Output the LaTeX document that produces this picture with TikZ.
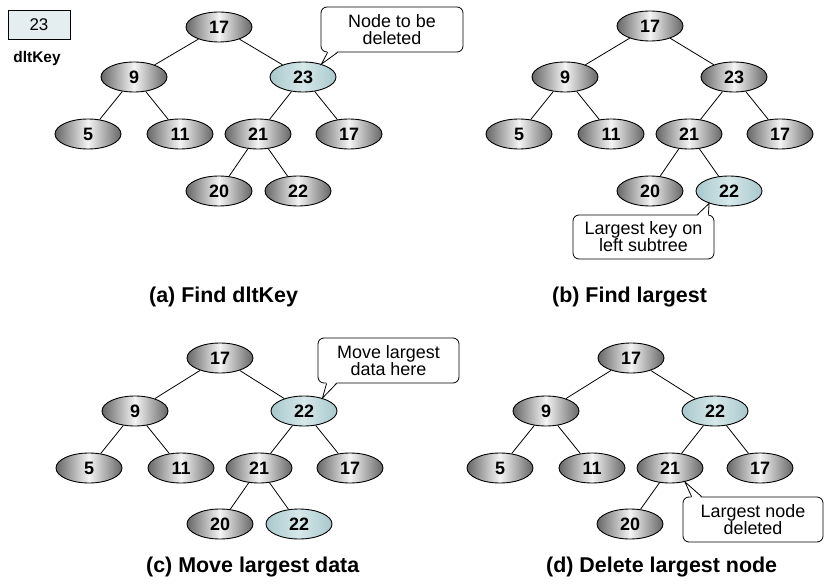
\documentclass[tikz,border=0pt]{standalone}
\usepackage{fontspec}
\setmainfont{Liberation Sans}
\usetikzlibrary{shapes.geometric,calc}
\definecolor{nodedark}{HTML}{666666}
\definecolor{nodelight}{HTML}{F4F4F4}
\definecolor{hidark}{HTML}{A8C8CC}
\definecolor{hilight}{HTML}{D6E8EA}
\definecolor{keyfill}{HTML}{E4EEF0}
\newcommand\calloutptr[4]{%
  \fill[white] ($#1+#4$) -- #3 -- ($#2+#4$) -- cycle;
  \draw[link] #1 -- #3 -- #2;}
\begin{document}
\begin{tikzpicture}[x=1bp,y=-1bp,
  tnode/.style={ellipse,draw=black,line width=0.9bp,minimum width=66bp,minimum height=30bp,inner sep=0pt,
    left color=nodedark,right color=nodedark,middle color=nodelight,
    font=\fontsize{18}{18}\selectfont\bfseries},
  hnode/.style={tnode,left color=hidark,right color=hidark,middle color=hilight},
  link/.style={line width=0.8bp,black},
  calloutbox/.style={draw=black,line width=0.8bp,fill=white,rounded corners=6bp,inner sep=0pt,
    align=center,font=\fontsize{18}{17}\selectfont},
  caption/.style={anchor=west,inner sep=0pt,font=\fontsize{21.5}{21.5}\selectfont\bfseries}]
\useasboundingbox (0,0) rectangle (824,585);

% key box
\node[draw=black,line width=0.8bp,fill=keyfill,minimum width=62bp,minimum height=29bp,inner sep=0pt,
  font=\fontsize{17}{17}\selectfont] (key) at (39,24.5) {23};
\node[font=\fontsize{15.5}{15.5}\selectfont\bfseries] (keylbl) at (37,59) {dltKey};

% ---------- (a) ----------
\node[tnode] (a17) at (219,27) {17};
\node[tnode] (a9) at (134,77) {9};
\node[hnode] (a23) at (303,77) {23};
\node[tnode] (a5) at (88,134) {5};
\node[tnode] (a11) at (180,134) {11};
\node[tnode] (a21) at (258,134) {21};
\node[tnode] (a17r) at (349,134) {17};
\node[tnode] (a20) at (219,191) {20};
\node[tnode] (a22) at (298,191) {22};
\draw[link] (a17)--(a9) (a17)--(a23) (a9)--(a5) (a9)--(a11) (a23)--(a21) (a23)--(a17r) (a21)--(a20) (a21)--(a22);
\node[calloutbox,minimum width=142bp,minimum height=45bp] (ca) at (392,29.5) {Node to be\\deleted};
\coordinate (caT) at (a23.35);
\coordinate (ca1) at ($(ca.south west)+(7,0)$);
\coordinate (ca2) at ($(ca.south west)+(17,0)$);
\calloutptr{(ca1)}{(ca2)}{(caT)}{(0,-1.5)}
\node[caption] (capa) at (149,297) {(a) Find dltKey};

% ---------- (b) ----------
\node[tnode] (b17) at (650,26) {17};
\node[tnode] (b9) at (565,77) {9};
\node[tnode] (b23) at (734,77) {23};
\node[tnode] (b5) at (519,134) {5};
\node[tnode] (b11) at (611,134) {11};
\node[tnode] (b21) at (689,134) {21};
\node[tnode] (b17r) at (780,134) {17};
\node[tnode] (b20) at (650,191) {20};
\node[hnode] (b22) at (729,191) {22};
\draw[link] (b17)--(b9) (b17)--(b23) (b9)--(b5) (b9)--(b11) (b23)--(b21) (b23)--(b17r) (b21)--(b20) (b21)--(b22);
\node[calloutbox,minimum width=141bp,minimum height=44bp] (cb) at (643.5,237) {Largest key on\\left subtree};
\coordinate (cbT) at (b22.212);
\coordinate (cb1) at ($(cb.north east)+(-17,0)$);
\coordinate (cb2) at ($(cb.north east)+(-6,0)$);
\calloutptr{(cb1)}{(cb2)}{(cbT)}{(0,1.5)}
\node[caption] (capb) at (552,297) {(b) Find largest};

% ---------- (c) ----------
\node[tnode] (c17) at (220,358) {17};
\node[tnode] (c9) at (135,411) {9};
\node[hnode] (c22) at (304,411) {22};
\node[tnode] (c5) at (89,468) {5};
\node[tnode] (c11) at (181,468) {11};
\node[tnode] (c21) at (259,468) {21};
\node[tnode] (c17r) at (350,468) {17};
\node[tnode] (c20) at (220,524) {20};
\node[hnode] (c22b) at (299,524) {22};
\draw[link] (c17)--(c9) (c17)--(c22) (c9)--(c5) (c9)--(c11) (c22)--(c21) (c22)--(c17r) (c21)--(c20) (c21)--(c22b);
\node[calloutbox,minimum width=141bp,minimum height=45bp] (cc) at (388.5,360.5) {Move largest\\data here};
\coordinate (ccT) at (c22.35);
\coordinate (cc1) at ($(cc.south west)+(9,0)$);
\coordinate (cc2) at ($(cc.south west)+(19,0)$);
\calloutptr{(cc1)}{(cc2)}{(ccT)}{(0,-1.5)}
\node[caption] (capc) at (146,567) {(c) Move largest data};

% ---------- (d) ----------
\node[tnode] (d17) at (631,358) {17};
\node[tnode] (d9) at (546,411) {9};
\node[hnode] (d22) at (715,411) {22};
\node[tnode] (d5) at (500,468) {5};
\node[tnode] (d11) at (592,468) {11};
\node[tnode] (d21) at (670,468) {21};
\node[tnode] (d17r) at (760,468) {17};
\node[tnode] (d20) at (630,524) {20};
\draw[link] (d17)--(d9) (d17)--(d22) (d9)--(d5) (d9)--(d11) (d22)--(d21) (d22)--(d17r) (d21)--(d20);
\node[calloutbox,minimum width=140bp,minimum height=45bp] (cd) at (753,519.5) {Largest node\\deleted};
\coordinate (cdT) at (d21.-43);
\coordinate (cd1) at ($(cd.north west)+(9,0)$);
\coordinate (cd2) at ($(cd.north west)+(19,0)$);
\calloutptr{(cd1)}{(cd2)}{(cdT)}{(0,1.5)}
\node[caption] (capd) at (546,567) {(d) Delete largest node};
\end{tikzpicture}
\end{document}
